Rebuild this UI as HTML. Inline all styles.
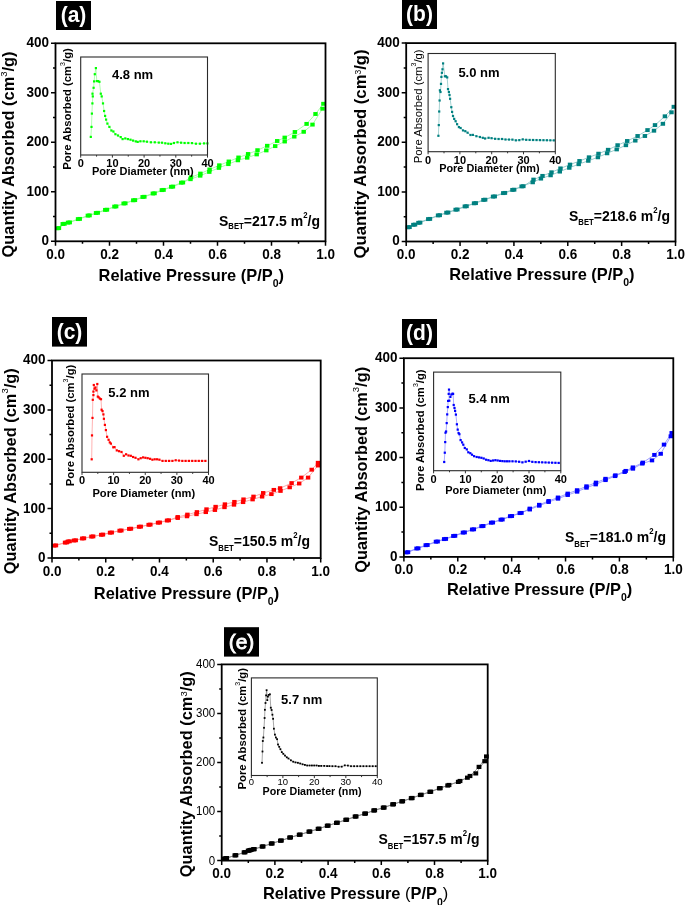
<!DOCTYPE html>
<html><head><meta charset="utf-8"><style>
html,body{margin:0;padding:0;background:#fff;overflow:hidden;}
svg{display:block;will-change:transform;}
text{font-family:"Liberation Sans", sans-serif;}
</style></head><body>
<svg width="685" height="905" viewBox="0 0 685 905">
<rect width="685" height="905" fill="#fff"/>
<rect x="56" y="1" width="35" height="29" fill="#000"/>
<text transform="translate(73.5,22.4) scale(1,1.09)" font-size="21" font-weight="bold" text-anchor="middle" fill="#fff" stroke="#fff" stroke-width="0">(a)</text>
<path d="M57.25,228.3 L62.75,224 L68.05,222.6 L78.05,219.1 L87.85,215.6 L96.05,213 L105.25,209.9 L114.45,206.6 L123.65,203.5 L133.25,200.3 L142.65,197 L152.85,193.5 L161.85,190.1 L171.25,186.8 L181.25,182.7 L190.5,179.2 L200.2,175.7 L209.3,171.9 L218.9,167.9 L228.4,164.1 L237.9,160.3 L247.2,157.7 L256.7,154.4 L266.3,150.4 L275.2,146.1 L284.7,141.5 L294.3,136.6 L303.7,131.8 L312.5,124.6 L322.5,108.7" fill="none" stroke="#90ff90" stroke-width="0.8"/>
<path d="M323.4,103.8 L315.5,114 L306.6,123.9 L294.9,132 L284.7,137.6 L277.2,141 L267.2,145.8 L257.5,150.2 L248.1,154 L238.5,157.5 L228.8,161.5 L219.3,165.3 L209.6,169.5 L200.4,173.6 L191,177.3 L182.95,182.5 L172.95,186.6 L163.55,189.9 L154.55,193.3 L144.35,196.8 L134.95,200.1 L125.35,203.3 L116.15,206.4 L106.95,209.7 L97.75,212.8 L89.55,215.4 L79.75,218.9 L69.75,222.4 L64.45,223.8 L58.95,228.1" fill="none" stroke="#90ff90" stroke-width="0.8"/>
<rect x="55.05" y="226.35" width="4.4" height="3.9" fill="#00ff00"/>
<rect x="60.55" y="222.05" width="4.4" height="3.9" fill="#00ff00"/>
<rect x="65.85" y="220.65" width="4.4" height="3.9" fill="#00ff00"/>
<rect x="75.85" y="217.15" width="4.4" height="3.9" fill="#00ff00"/>
<rect x="85.65" y="213.65" width="4.4" height="3.9" fill="#00ff00"/>
<rect x="93.85" y="211.05" width="4.4" height="3.9" fill="#00ff00"/>
<rect x="103.05" y="207.95" width="4.4" height="3.9" fill="#00ff00"/>
<rect x="112.25" y="204.65" width="4.4" height="3.9" fill="#00ff00"/>
<rect x="121.45" y="201.55" width="4.4" height="3.9" fill="#00ff00"/>
<rect x="131.05" y="198.35" width="4.4" height="3.9" fill="#00ff00"/>
<rect x="140.45" y="195.05" width="4.4" height="3.9" fill="#00ff00"/>
<rect x="150.65" y="191.55" width="4.4" height="3.9" fill="#00ff00"/>
<rect x="159.65" y="188.15" width="4.4" height="3.9" fill="#00ff00"/>
<rect x="169.05" y="184.85" width="4.4" height="3.9" fill="#00ff00"/>
<rect x="179.05" y="180.75" width="4.4" height="3.9" fill="#00ff00"/>
<rect x="188.3" y="177.25" width="4.4" height="3.9" fill="#00ff00"/>
<rect x="198" y="173.75" width="4.4" height="3.9" fill="#00ff00"/>
<rect x="207.1" y="169.95" width="4.4" height="3.9" fill="#00ff00"/>
<rect x="216.7" y="165.95" width="4.4" height="3.9" fill="#00ff00"/>
<rect x="226.2" y="162.15" width="4.4" height="3.9" fill="#00ff00"/>
<rect x="235.7" y="158.35" width="4.4" height="3.9" fill="#00ff00"/>
<rect x="245" y="155.75" width="4.4" height="3.9" fill="#00ff00"/>
<rect x="254.5" y="152.45" width="4.4" height="3.9" fill="#00ff00"/>
<rect x="264.1" y="148.45" width="4.4" height="3.9" fill="#00ff00"/>
<rect x="273" y="144.15" width="4.4" height="3.9" fill="#00ff00"/>
<rect x="282.5" y="139.55" width="4.4" height="3.9" fill="#00ff00"/>
<rect x="292.1" y="134.65" width="4.4" height="3.9" fill="#00ff00"/>
<rect x="301.5" y="129.85" width="4.4" height="3.9" fill="#00ff00"/>
<rect x="310.3" y="122.65" width="4.4" height="3.9" fill="#00ff00"/>
<rect x="320.3" y="106.75" width="4.4" height="3.9" fill="#00ff00"/>
<rect x="321.2" y="101.85" width="4.4" height="3.9" fill="#00ff00"/>
<rect x="313.3" y="112.05" width="4.4" height="3.9" fill="#00ff00"/>
<rect x="304.4" y="121.95" width="4.4" height="3.9" fill="#00ff00"/>
<rect x="292.7" y="130.05" width="4.4" height="3.9" fill="#00ff00"/>
<rect x="282.5" y="135.65" width="4.4" height="3.9" fill="#00ff00"/>
<rect x="275" y="139.05" width="4.4" height="3.9" fill="#00ff00"/>
<rect x="265" y="143.85" width="4.4" height="3.9" fill="#00ff00"/>
<rect x="255.3" y="148.25" width="4.4" height="3.9" fill="#00ff00"/>
<rect x="245.9" y="152.05" width="4.4" height="3.9" fill="#00ff00"/>
<rect x="236.3" y="155.55" width="4.4" height="3.9" fill="#00ff00"/>
<rect x="226.6" y="159.55" width="4.4" height="3.9" fill="#00ff00"/>
<rect x="217.1" y="163.35" width="4.4" height="3.9" fill="#00ff00"/>
<rect x="207.4" y="167.55" width="4.4" height="3.9" fill="#00ff00"/>
<rect x="198.2" y="171.65" width="4.4" height="3.9" fill="#00ff00"/>
<rect x="188.8" y="175.35" width="4.4" height="3.9" fill="#00ff00"/>
<rect x="180.75" y="180.55" width="4.4" height="3.9" fill="#00ff00"/>
<rect x="170.75" y="184.65" width="4.4" height="3.9" fill="#00ff00"/>
<rect x="161.35" y="187.95" width="4.4" height="3.9" fill="#00ff00"/>
<rect x="152.35" y="191.35" width="4.4" height="3.9" fill="#00ff00"/>
<rect x="142.15" y="194.85" width="4.4" height="3.9" fill="#00ff00"/>
<rect x="132.75" y="198.15" width="4.4" height="3.9" fill="#00ff00"/>
<rect x="123.15" y="201.35" width="4.4" height="3.9" fill="#00ff00"/>
<rect x="113.95" y="204.45" width="4.4" height="3.9" fill="#00ff00"/>
<rect x="104.75" y="207.75" width="4.4" height="3.9" fill="#00ff00"/>
<rect x="95.55" y="210.85" width="4.4" height="3.9" fill="#00ff00"/>
<rect x="87.35" y="213.45" width="4.4" height="3.9" fill="#00ff00"/>
<rect x="77.55" y="216.95" width="4.4" height="3.9" fill="#00ff00"/>
<rect x="67.55" y="220.45" width="4.4" height="3.9" fill="#00ff00"/>
<rect x="62.25" y="221.85" width="4.4" height="3.9" fill="#00ff00"/>
<rect x="56.75" y="226.15" width="4.4" height="3.9" fill="#00ff00"/>
<rect x="55.5" y="43.3" width="270" height="198" fill="none" stroke="#000" stroke-width="1.8"/>
<path d="M55.5,241.3 v4.5 M82.5,241.3 v2.5 M109.5,241.3 v4.5 M136.5,241.3 v2.5 M163.5,241.3 v4.5 M190.5,241.3 v2.5 M217.5,241.3 v4.5 M244.5,241.3 v2.5 M271.5,241.3 v4.5 M298.5,241.3 v2.5 M325.5,241.3 v4.5 M55.5,241.3 h-4.5 M55.5,216.55 h-2.5 M55.5,191.8 h-4.5 M55.5,167.05 h-2.5 M55.5,142.3 h-4.5 M55.5,117.55 h-2.5 M55.5,92.8 h-4.5 M55.5,68.05 h-2.5 M55.5,43.3 h-4.5" stroke="#000" stroke-width="1.5" fill="none"/>
<text transform="translate(55.5,258.8) scale(1,1.05)" font-size="13.5" font-weight="bold" text-anchor="middle">0.0</text>
<text transform="translate(109.5,258.8) scale(1,1.05)" font-size="13.5" font-weight="bold" text-anchor="middle">0.2</text>
<text transform="translate(163.5,258.8) scale(1,1.05)" font-size="13.5" font-weight="bold" text-anchor="middle">0.4</text>
<text transform="translate(217.5,258.8) scale(1,1.05)" font-size="13.5" font-weight="bold" text-anchor="middle">0.6</text>
<text transform="translate(271.5,258.8) scale(1,1.05)" font-size="13.5" font-weight="bold" text-anchor="middle">0.8</text>
<text transform="translate(325.5,258.8) scale(1,1.05)" font-size="13.5" font-weight="bold" text-anchor="middle">1.0</text>
<text transform="translate(49,245.2) scale(1,1.05)" font-size="13.5" font-weight="bold" text-anchor="end">0</text>
<text transform="translate(49,195.7) scale(1,1.05)" font-size="13.5" font-weight="bold" text-anchor="end">100</text>
<text transform="translate(49,146.2) scale(1,1.05)" font-size="13.5" font-weight="bold" text-anchor="end">200</text>
<text transform="translate(49,96.7) scale(1,1.05)" font-size="13.5" font-weight="bold" text-anchor="end">300</text>
<text transform="translate(49,47.2) scale(1,1.05)" font-size="13.5" font-weight="bold" text-anchor="end">400</text>
<text x="98.6" y="280.7" font-size="16.4" font-weight="bold">Relative Pressure <tspan font-weight="bold">(</tspan>P/P<tspan font-size="10.5" dy="6.3">0</tspan><tspan dy="-6.3" font-weight="bold">)</tspan></text>
<text transform="translate(14,257.4) rotate(-90)" x="0" y="0" font-size="16.4" font-weight="bold">Quantity Absorbed (cm<tspan font-size="9.5" dy="-7.5" font-weight="normal">3</tspan><tspan dy="7.5">/g)</tspan></text>
<text transform="translate(219,225.7) scale(1,1.07)" font-size="14" font-weight="bold">S<tspan font-size="7.7" dy="3.5">BET</tspan><tspan dy="-3.5">=217.5 m</tspan><tspan font-size="7.8" dy="-7.4">2</tspan><tspan dy="7.4">/g</tspan></text>
<path d="M90.8,136.9 L91.5,126.9 L91.9,113.6 L92.4,103.4 L92.8,96.4 L92.5,93.7 L93.6,87.8 L94.1,81.4 L94.8,74.2 L95.9,68.1 L96.8,81.1 L98.1,81.1 L99.4,81.8 L100.8,93.7 L101.7,96.4 L103,103.4 L104.1,111 L105.1,115.9 L106.1,119.6 L107.4,123.6 L109.4,126.9 L111.4,130.5 L113.4,131.5 L115.4,134.2 L118,135.5 L120.7,137.1 L122.6,139.1 L125.3,138.4 L127.9,139.1 L130.5,139.7 L133.1,140.6 L135.8,141.4 L137.7,141.9 L140.4,141.3 L143.7,141.3 L146.9,141.7 L150.9,142.3 L154.8,142.3 L158.8,142.6 L162,142.7 L165.3,143.3 L168.3,143.7 L171,143.9 L173.9,143 L177.5,142.3 L181.1,142.7 L184.6,143 L188.3,143 L192,143.1 L195.9,143.7 L199.9,143.7 L204.1,143.4 L207.4,143.4" fill="none" stroke="#90ff90" stroke-width="0.7"/>
<rect x="89.7" y="135.8" width="2.2" height="2.2" fill="#00ff00"/>
<rect x="90.4" y="125.8" width="2.2" height="2.2" fill="#00ff00"/>
<rect x="90.8" y="112.5" width="2.2" height="2.2" fill="#00ff00"/>
<rect x="91.3" y="102.3" width="2.2" height="2.2" fill="#00ff00"/>
<rect x="91.7" y="95.3" width="2.2" height="2.2" fill="#00ff00"/>
<rect x="91.4" y="92.6" width="2.2" height="2.2" fill="#00ff00"/>
<rect x="92.5" y="86.7" width="2.2" height="2.2" fill="#00ff00"/>
<rect x="93" y="80.3" width="2.2" height="2.2" fill="#00ff00"/>
<rect x="93.7" y="73.1" width="2.2" height="2.2" fill="#00ff00"/>
<rect x="94.8" y="67" width="2.2" height="2.2" fill="#00ff00"/>
<rect x="95.7" y="80" width="2.2" height="2.2" fill="#00ff00"/>
<rect x="97" y="80" width="2.2" height="2.2" fill="#00ff00"/>
<rect x="98.3" y="80.7" width="2.2" height="2.2" fill="#00ff00"/>
<rect x="99.7" y="92.6" width="2.2" height="2.2" fill="#00ff00"/>
<rect x="100.6" y="95.3" width="2.2" height="2.2" fill="#00ff00"/>
<rect x="101.9" y="102.3" width="2.2" height="2.2" fill="#00ff00"/>
<rect x="103" y="109.9" width="2.2" height="2.2" fill="#00ff00"/>
<rect x="104" y="114.8" width="2.2" height="2.2" fill="#00ff00"/>
<rect x="105" y="118.5" width="2.2" height="2.2" fill="#00ff00"/>
<rect x="106.3" y="122.5" width="2.2" height="2.2" fill="#00ff00"/>
<rect x="108.3" y="125.8" width="2.2" height="2.2" fill="#00ff00"/>
<rect x="110.3" y="129.4" width="2.2" height="2.2" fill="#00ff00"/>
<rect x="112.3" y="130.4" width="2.2" height="2.2" fill="#00ff00"/>
<rect x="114.3" y="133.1" width="2.2" height="2.2" fill="#00ff00"/>
<rect x="116.9" y="134.4" width="2.2" height="2.2" fill="#00ff00"/>
<rect x="119.6" y="136" width="2.2" height="2.2" fill="#00ff00"/>
<rect x="121.5" y="138" width="2.2" height="2.2" fill="#00ff00"/>
<rect x="124.2" y="137.3" width="2.2" height="2.2" fill="#00ff00"/>
<rect x="126.8" y="138" width="2.2" height="2.2" fill="#00ff00"/>
<rect x="129.4" y="138.6" width="2.2" height="2.2" fill="#00ff00"/>
<rect x="132" y="139.5" width="2.2" height="2.2" fill="#00ff00"/>
<rect x="134.7" y="140.3" width="2.2" height="2.2" fill="#00ff00"/>
<rect x="136.6" y="140.8" width="2.2" height="2.2" fill="#00ff00"/>
<rect x="139.3" y="140.2" width="2.2" height="2.2" fill="#00ff00"/>
<rect x="142.6" y="140.2" width="2.2" height="2.2" fill="#00ff00"/>
<rect x="145.8" y="140.6" width="2.2" height="2.2" fill="#00ff00"/>
<rect x="149.8" y="141.2" width="2.2" height="2.2" fill="#00ff00"/>
<rect x="153.7" y="141.2" width="2.2" height="2.2" fill="#00ff00"/>
<rect x="157.7" y="141.5" width="2.2" height="2.2" fill="#00ff00"/>
<rect x="160.9" y="141.6" width="2.2" height="2.2" fill="#00ff00"/>
<rect x="164.2" y="142.2" width="2.2" height="2.2" fill="#00ff00"/>
<rect x="167.2" y="142.6" width="2.2" height="2.2" fill="#00ff00"/>
<rect x="169.9" y="142.8" width="2.2" height="2.2" fill="#00ff00"/>
<rect x="172.8" y="141.9" width="2.2" height="2.2" fill="#00ff00"/>
<rect x="176.4" y="141.2" width="2.2" height="2.2" fill="#00ff00"/>
<rect x="180" y="141.6" width="2.2" height="2.2" fill="#00ff00"/>
<rect x="183.5" y="141.9" width="2.2" height="2.2" fill="#00ff00"/>
<rect x="187.2" y="141.9" width="2.2" height="2.2" fill="#00ff00"/>
<rect x="190.9" y="142" width="2.2" height="2.2" fill="#00ff00"/>
<rect x="194.8" y="142.6" width="2.2" height="2.2" fill="#00ff00"/>
<rect x="198.8" y="142.6" width="2.2" height="2.2" fill="#00ff00"/>
<rect x="203" y="142.3" width="2.2" height="2.2" fill="#00ff00"/>
<rect x="206.3" y="142.3" width="2.2" height="2.2" fill="#00ff00"/>
<rect x="80.7" y="57" width="126.8" height="98" fill="none" stroke="#2a2a2a" stroke-width="1.1"/>
<path d="M80.7,155 v2.6 M96.55,155 v1.6 M112.4,155 v2.6 M128.25,155 v1.6 M144.1,155 v2.6 M159.95,155 v1.6 M175.8,155 v2.6 M191.65,155 v1.6 M207.5,155 v2.6" stroke="#333" stroke-width="1" fill="none"/>
<text x="80.7" y="167" font-size="11" font-weight="bold" text-anchor="middle" fill="#000" >0</text>
<text x="112.4" y="167" font-size="11" font-weight="bold" text-anchor="middle" fill="#000" >10</text>
<text x="144.1" y="167" font-size="11" font-weight="bold" text-anchor="middle" fill="#000" >20</text>
<text x="175.8" y="167" font-size="11" font-weight="bold" text-anchor="middle" fill="#000" >30</text>
<text x="207.5" y="167" font-size="11" font-weight="bold" text-anchor="middle" fill="#000" >40</text>
<text x="92" y="174.5" font-size="11" font-weight="bold" textLength="101.6" lengthAdjust="spacingAndGlyphs">Pore Diameter (nm)</text>
<text transform="translate(70.9,169.7) rotate(-90)" font-size="11.3" font-weight="bold">Pore Absorbed (cm<tspan font-size="7" font-weight="normal" dy="-5.8">3</tspan><tspan dy="5.8">/g)</tspan></text>
<text x="112" y="79" font-size="13" font-weight="bold" text-anchor="start" fill="#000" >4.8 nm</text>
<rect x="402" y="0" width="35" height="29" fill="#000"/>
<text transform="translate(419.5,21.4) scale(1,1.09)" font-size="21" font-weight="bold" text-anchor="middle" fill="#fff" stroke="#fff" stroke-width="0">(b)</text>
<path d="M407.85,227.3 L413.35,224.8 L418.45,222.8 L428.25,219.1 L438.05,215.4 L446.45,212.7 L455.65,209.7 L464.85,206.4 L474.05,203.3 L483.45,199.9 L493.05,196.6 L503.25,193.1 L512.45,189.9 L521.65,186.4 L532.7,182.3 L540.9,178.6 L550.6,175.3 L559.8,171.6 L569.3,167.8 L578.7,164.2 L588.3,160.8 L597.9,157.3 L607.1,153.3 L616.7,149.4 L625.9,145.2 L635.3,140.6 L644.9,136 L654,130.7 L662.9,123.8 L671.5,112.3" fill="none" stroke="#80c0c0" stroke-width="0.8"/>
<path d="M673.8,106.8 L664.9,116.3 L655,125.1 L647.5,130.1 L637.6,136 L627.2,141 L617.6,145.2 L608.1,149.8 L598.5,153.7 L589,157.3 L579.5,161 L570,164.6 L560.5,168.4 L551.5,172.3 L542.5,175.9 L533.5,179.6 L523.35,186.2 L514.15,189.7 L504.95,192.9 L494.75,196.4 L485.15,199.7 L475.75,203.1 L466.55,206.2 L457.35,209.5 L448.15,212.5 L439.75,215.2 L429.95,218.9 L420.15,222.6 L415.05,224.6 L409.55,227.1" fill="none" stroke="#80c0c0" stroke-width="0.8"/>
<rect x="405.65" y="225.35" width="4.4" height="3.9" fill="#008080"/>
<rect x="411.15" y="222.85" width="4.4" height="3.9" fill="#008080"/>
<rect x="416.25" y="220.85" width="4.4" height="3.9" fill="#008080"/>
<rect x="426.05" y="217.15" width="4.4" height="3.9" fill="#008080"/>
<rect x="435.85" y="213.45" width="4.4" height="3.9" fill="#008080"/>
<rect x="444.25" y="210.75" width="4.4" height="3.9" fill="#008080"/>
<rect x="453.45" y="207.75" width="4.4" height="3.9" fill="#008080"/>
<rect x="462.65" y="204.45" width="4.4" height="3.9" fill="#008080"/>
<rect x="471.85" y="201.35" width="4.4" height="3.9" fill="#008080"/>
<rect x="481.25" y="197.95" width="4.4" height="3.9" fill="#008080"/>
<rect x="490.85" y="194.65" width="4.4" height="3.9" fill="#008080"/>
<rect x="501.05" y="191.15" width="4.4" height="3.9" fill="#008080"/>
<rect x="510.25" y="187.95" width="4.4" height="3.9" fill="#008080"/>
<rect x="519.45" y="184.45" width="4.4" height="3.9" fill="#008080"/>
<rect x="530.5" y="180.35" width="4.4" height="3.9" fill="#008080"/>
<rect x="538.7" y="176.65" width="4.4" height="3.9" fill="#008080"/>
<rect x="548.4" y="173.35" width="4.4" height="3.9" fill="#008080"/>
<rect x="557.6" y="169.65" width="4.4" height="3.9" fill="#008080"/>
<rect x="567.1" y="165.85" width="4.4" height="3.9" fill="#008080"/>
<rect x="576.5" y="162.25" width="4.4" height="3.9" fill="#008080"/>
<rect x="586.1" y="158.85" width="4.4" height="3.9" fill="#008080"/>
<rect x="595.7" y="155.35" width="4.4" height="3.9" fill="#008080"/>
<rect x="604.9" y="151.35" width="4.4" height="3.9" fill="#008080"/>
<rect x="614.5" y="147.45" width="4.4" height="3.9" fill="#008080"/>
<rect x="623.7" y="143.25" width="4.4" height="3.9" fill="#008080"/>
<rect x="633.1" y="138.65" width="4.4" height="3.9" fill="#008080"/>
<rect x="642.7" y="134.05" width="4.4" height="3.9" fill="#008080"/>
<rect x="651.8" y="128.75" width="4.4" height="3.9" fill="#008080"/>
<rect x="660.7" y="121.85" width="4.4" height="3.9" fill="#008080"/>
<rect x="669.3" y="110.35" width="4.4" height="3.9" fill="#008080"/>
<rect x="671.6" y="104.85" width="4.4" height="3.9" fill="#008080"/>
<rect x="662.7" y="114.35" width="4.4" height="3.9" fill="#008080"/>
<rect x="652.8" y="123.15" width="4.4" height="3.9" fill="#008080"/>
<rect x="645.3" y="128.15" width="4.4" height="3.9" fill="#008080"/>
<rect x="635.4" y="134.05" width="4.4" height="3.9" fill="#008080"/>
<rect x="625" y="139.05" width="4.4" height="3.9" fill="#008080"/>
<rect x="615.4" y="143.25" width="4.4" height="3.9" fill="#008080"/>
<rect x="605.9" y="147.85" width="4.4" height="3.9" fill="#008080"/>
<rect x="596.3" y="151.75" width="4.4" height="3.9" fill="#008080"/>
<rect x="586.8" y="155.35" width="4.4" height="3.9" fill="#008080"/>
<rect x="577.3" y="159.05" width="4.4" height="3.9" fill="#008080"/>
<rect x="567.8" y="162.65" width="4.4" height="3.9" fill="#008080"/>
<rect x="558.3" y="166.45" width="4.4" height="3.9" fill="#008080"/>
<rect x="549.3" y="170.35" width="4.4" height="3.9" fill="#008080"/>
<rect x="540.3" y="173.95" width="4.4" height="3.9" fill="#008080"/>
<rect x="531.3" y="177.65" width="4.4" height="3.9" fill="#008080"/>
<rect x="521.15" y="184.25" width="4.4" height="3.9" fill="#008080"/>
<rect x="511.95" y="187.75" width="4.4" height="3.9" fill="#008080"/>
<rect x="502.75" y="190.95" width="4.4" height="3.9" fill="#008080"/>
<rect x="492.55" y="194.45" width="4.4" height="3.9" fill="#008080"/>
<rect x="482.95" y="197.75" width="4.4" height="3.9" fill="#008080"/>
<rect x="473.55" y="201.15" width="4.4" height="3.9" fill="#008080"/>
<rect x="464.35" y="204.25" width="4.4" height="3.9" fill="#008080"/>
<rect x="455.15" y="207.55" width="4.4" height="3.9" fill="#008080"/>
<rect x="445.95" y="210.55" width="4.4" height="3.9" fill="#008080"/>
<rect x="437.55" y="213.25" width="4.4" height="3.9" fill="#008080"/>
<rect x="427.75" y="216.95" width="4.4" height="3.9" fill="#008080"/>
<rect x="417.95" y="220.65" width="4.4" height="3.9" fill="#008080"/>
<rect x="412.85" y="222.65" width="4.4" height="3.9" fill="#008080"/>
<rect x="407.35" y="225.15" width="4.4" height="3.9" fill="#008080"/>
<rect x="406.2" y="43.1" width="269.3" height="198.4" fill="none" stroke="#000" stroke-width="1.8"/>
<path d="M406.2,241.5 v4.5 M433.13,241.5 v2.5 M460.06,241.5 v4.5 M486.99,241.5 v2.5 M513.92,241.5 v4.5 M540.85,241.5 v2.5 M567.78,241.5 v4.5 M594.71,241.5 v2.5 M621.64,241.5 v4.5 M648.57,241.5 v2.5 M675.5,241.5 v4.5 M406.2,241.5 h-4.5 M406.2,216.7 h-2.5 M406.2,191.9 h-4.5 M406.2,167.1 h-2.5 M406.2,142.3 h-4.5 M406.2,117.5 h-2.5 M406.2,92.7 h-4.5 M406.2,67.9 h-2.5 M406.2,43.1 h-4.5" stroke="#000" stroke-width="1.5" fill="none"/>
<text transform="translate(406.2,259) scale(1,1.05)" font-size="13.5" font-weight="bold" text-anchor="middle">0.0</text>
<text transform="translate(460.06,259) scale(1,1.05)" font-size="13.5" font-weight="bold" text-anchor="middle">0.2</text>
<text transform="translate(513.92,259) scale(1,1.05)" font-size="13.5" font-weight="bold" text-anchor="middle">0.4</text>
<text transform="translate(567.78,259) scale(1,1.05)" font-size="13.5" font-weight="bold" text-anchor="middle">0.6</text>
<text transform="translate(621.64,259) scale(1,1.05)" font-size="13.5" font-weight="bold" text-anchor="middle">0.8</text>
<text transform="translate(675.5,259) scale(1,1.05)" font-size="13.5" font-weight="bold" text-anchor="middle">1.0</text>
<text transform="translate(399.7,245.4) scale(1,1.05)" font-size="13.5" font-weight="bold" text-anchor="end">0</text>
<text transform="translate(399.7,195.8) scale(1,1.05)" font-size="13.5" font-weight="bold" text-anchor="end">100</text>
<text transform="translate(399.7,146.2) scale(1,1.05)" font-size="13.5" font-weight="bold" text-anchor="end">200</text>
<text transform="translate(399.7,96.6) scale(1,1.05)" font-size="13.5" font-weight="bold" text-anchor="end">300</text>
<text transform="translate(399.7,47) scale(1,1.05)" font-size="13.5" font-weight="bold" text-anchor="end">400</text>
<text x="449.2" y="279.5" font-size="16.4" font-weight="bold">Relative Pressure <tspan font-weight="bold">(</tspan>P/P<tspan font-size="10.5" dy="6.3">0</tspan><tspan dy="-6.3" font-weight="bold">)</tspan></text>
<text transform="translate(366,258.4) rotate(-90)" x="0" y="0" font-size="16.7" font-weight="bold">Quantity Absorbed (cm<tspan font-size="8.5" dy="-5.5" font-weight="normal">3</tspan><tspan dy="5.5">/g)</tspan></text>
<text transform="translate(569,220.7) scale(1,1.07)" font-size="14" font-weight="bold">S<tspan font-size="7.7" dy="4.1">BET</tspan><tspan dy="-4.1">=218.6 m</tspan><tspan font-size="7.8" dy="-7.4">2</tspan><tspan dy="7.4">/g</tspan></text>
<path d="M438.4,135.8 L438.8,125.1 L439.2,111.5 L439.6,100.5 L439.9,90.3 L440.5,92 L441,83.9 L441.4,76.9 L441.9,72.8 L442.5,69.3 L443.1,63.4 L444.9,76.3 L446,76.3 L447.2,77.4 L448,89.1 L448.9,92 L449.5,95 L450.1,98.8 L451.3,107.2 L452.1,111.9 L453,116 L454.2,118.9 L455.6,121.2 L457.1,124.2 L458.9,127.1 L460.6,128 L463,130.4 L465.3,131.2 L467.6,132.7 L470.5,135 L472.9,134.9 L476.4,136.2 L479.9,137 L482.8,137.8 L485.1,138.5 L488.6,137.8 L491.6,138.2 L495.1,138.8 L498.6,139 L502.1,139 L505.5,139.5 L508.95,139.56 L512.4,139.63 L515.85,140.33 L519.3,140.13 L522.75,139.36 L526.2,139.82 L529.65,139.94 L533.1,140 L536.55,140.06 L540,140.13 L543.45,140.19 L546.9,140.25 L550.35,140.32 L553.8,140.38" fill="none" stroke="#80c0c0" stroke-width="0.7"/>
<rect x="437.3" y="134.7" width="2.2" height="2.2" fill="#008080"/>
<rect x="437.7" y="124" width="2.2" height="2.2" fill="#008080"/>
<rect x="438.1" y="110.4" width="2.2" height="2.2" fill="#008080"/>
<rect x="438.5" y="99.4" width="2.2" height="2.2" fill="#008080"/>
<rect x="438.8" y="89.2" width="2.2" height="2.2" fill="#008080"/>
<rect x="439.4" y="90.9" width="2.2" height="2.2" fill="#008080"/>
<rect x="439.9" y="82.8" width="2.2" height="2.2" fill="#008080"/>
<rect x="440.3" y="75.8" width="2.2" height="2.2" fill="#008080"/>
<rect x="440.8" y="71.7" width="2.2" height="2.2" fill="#008080"/>
<rect x="441.4" y="68.2" width="2.2" height="2.2" fill="#008080"/>
<rect x="442" y="62.3" width="2.2" height="2.2" fill="#008080"/>
<rect x="443.8" y="75.2" width="2.2" height="2.2" fill="#008080"/>
<rect x="444.9" y="75.2" width="2.2" height="2.2" fill="#008080"/>
<rect x="446.1" y="76.3" width="2.2" height="2.2" fill="#008080"/>
<rect x="446.9" y="88" width="2.2" height="2.2" fill="#008080"/>
<rect x="447.8" y="90.9" width="2.2" height="2.2" fill="#008080"/>
<rect x="448.4" y="93.9" width="2.2" height="2.2" fill="#008080"/>
<rect x="449" y="97.7" width="2.2" height="2.2" fill="#008080"/>
<rect x="450.2" y="106.1" width="2.2" height="2.2" fill="#008080"/>
<rect x="451" y="110.8" width="2.2" height="2.2" fill="#008080"/>
<rect x="451.9" y="114.9" width="2.2" height="2.2" fill="#008080"/>
<rect x="453.1" y="117.8" width="2.2" height="2.2" fill="#008080"/>
<rect x="454.5" y="120.1" width="2.2" height="2.2" fill="#008080"/>
<rect x="456" y="123.1" width="2.2" height="2.2" fill="#008080"/>
<rect x="457.8" y="126" width="2.2" height="2.2" fill="#008080"/>
<rect x="459.5" y="126.9" width="2.2" height="2.2" fill="#008080"/>
<rect x="461.9" y="129.3" width="2.2" height="2.2" fill="#008080"/>
<rect x="464.2" y="130.1" width="2.2" height="2.2" fill="#008080"/>
<rect x="466.5" y="131.6" width="2.2" height="2.2" fill="#008080"/>
<rect x="469.4" y="133.9" width="2.2" height="2.2" fill="#008080"/>
<rect x="471.8" y="133.8" width="2.2" height="2.2" fill="#008080"/>
<rect x="475.3" y="135.1" width="2.2" height="2.2" fill="#008080"/>
<rect x="478.8" y="135.9" width="2.2" height="2.2" fill="#008080"/>
<rect x="481.7" y="136.7" width="2.2" height="2.2" fill="#008080"/>
<rect x="484" y="137.4" width="2.2" height="2.2" fill="#008080"/>
<rect x="487.5" y="136.7" width="2.2" height="2.2" fill="#008080"/>
<rect x="490.5" y="137.1" width="2.2" height="2.2" fill="#008080"/>
<rect x="494" y="137.7" width="2.2" height="2.2" fill="#008080"/>
<rect x="497.5" y="137.9" width="2.2" height="2.2" fill="#008080"/>
<rect x="501" y="137.9" width="2.2" height="2.2" fill="#008080"/>
<rect x="504.4" y="138.4" width="2.2" height="2.2" fill="#008080"/>
<rect x="507.85" y="138.46" width="2.2" height="2.2" fill="#008080"/>
<rect x="511.3" y="138.53" width="2.2" height="2.2" fill="#008080"/>
<rect x="514.75" y="139.23" width="2.2" height="2.2" fill="#008080"/>
<rect x="518.2" y="139.03" width="2.2" height="2.2" fill="#008080"/>
<rect x="521.65" y="138.26" width="2.2" height="2.2" fill="#008080"/>
<rect x="525.1" y="138.72" width="2.2" height="2.2" fill="#008080"/>
<rect x="528.55" y="138.84" width="2.2" height="2.2" fill="#008080"/>
<rect x="532" y="138.9" width="2.2" height="2.2" fill="#008080"/>
<rect x="535.45" y="138.96" width="2.2" height="2.2" fill="#008080"/>
<rect x="538.9" y="139.03" width="2.2" height="2.2" fill="#008080"/>
<rect x="542.35" y="139.09" width="2.2" height="2.2" fill="#008080"/>
<rect x="545.8" y="139.15" width="2.2" height="2.2" fill="#008080"/>
<rect x="549.25" y="139.22" width="2.2" height="2.2" fill="#008080"/>
<rect x="552.7" y="139.28" width="2.2" height="2.2" fill="#008080"/>
<rect x="428.1" y="53.5" width="127.2" height="98.2" fill="none" stroke="#2a2a2a" stroke-width="1.1"/>
<path d="M428.1,151.7 v2.6 M444,151.7 v1.6 M459.9,151.7 v2.6 M475.8,151.7 v1.6 M491.7,151.7 v2.6 M507.6,151.7 v1.6 M523.5,151.7 v2.6 M539.4,151.7 v1.6 M555.3,151.7 v2.6" stroke="#333" stroke-width="1" fill="none"/>
<text x="428.1" y="163.7" font-size="11" font-weight="bold" text-anchor="middle" fill="#000" >0</text>
<text x="459.9" y="163.7" font-size="11" font-weight="bold" text-anchor="middle" fill="#000" >10</text>
<text x="491.7" y="163.7" font-size="11" font-weight="bold" text-anchor="middle" fill="#000" >20</text>
<text x="523.5" y="163.7" font-size="11" font-weight="bold" text-anchor="middle" fill="#000" >30</text>
<text x="555.3" y="163.7" font-size="11" font-weight="bold" text-anchor="middle" fill="#000" >40</text>
<text x="439.2" y="171.6" font-size="11" font-weight="bold" textLength="100.5" lengthAdjust="spacingAndGlyphs">Pore Diameter (nm)</text>
<text transform="translate(421.8,163.2) rotate(-90)" font-size="11.3" font-weight="normal">Pore Absorbed (cm<tspan font-size="7" font-weight="normal" dy="-5.8">3</tspan><tspan dy="5.8">/g)</tspan></text>
<text x="458.4" y="76.9" font-size="13" font-weight="bold" text-anchor="start" fill="#000" >5.0 nm</text>
<rect x="52" y="317" width="35" height="29.6" fill="#000"/>
<text transform="translate(69.5,339) scale(1,1.09)" font-size="21" font-weight="bold" text-anchor="middle" fill="#fff" stroke="#fff" stroke-width="0">(c)</text>
<path d="M54.25,545.6 L65.05,542.6 L67.95,541.5 L74.05,540.5 L82.25,538.5 L91.45,536.6 L101.25,534.8 L110.05,532.7 L119.65,530.7 L129.25,528.9 L139.05,526.8 L148.65,524.8 L158.05,522.7 L167.05,520.5 L177.7,518 L187,516.3 L196.5,514.2 L205.8,512.1 L214.9,510 L224.5,507.2 L234,504.7 L243.1,502.1 L252.6,499.4 L262.1,496.6 L271.4,494.1 L280.5,490.9 L289.7,487.3 L299.2,483.5 L308.1,477.6 L318,465.5" fill="none" stroke="#ff9090" stroke-width="0.8"/>
<path d="M318,462.8 L311.7,469.7 L301.3,477.6 L291.6,483.1 L280.1,488.2 L273.8,489.9 L263.2,493 L253.5,496.6 L243.5,499.4 L234.4,501.9 L224.9,504.3 L215.6,506.8 L206.5,509.3 L196.9,512.1 L187.4,514.6 L177.7,517 L168.75,520.3 L159.75,522.5 L150.35,524.6 L140.75,526.6 L130.95,528.7 L121.35,530.5 L111.75,532.5 L102.95,534.6 L93.15,536.4 L83.95,538.3 L75.75,540.3 L69.65,541.3 L66.75,542.4 L55.95,545.4" fill="none" stroke="#ff9090" stroke-width="0.8"/>
<rect x="52.05" y="543.65" width="4.4" height="3.9" fill="#ff0000"/>
<rect x="62.85" y="540.65" width="4.4" height="3.9" fill="#ff0000"/>
<rect x="65.75" y="539.55" width="4.4" height="3.9" fill="#ff0000"/>
<rect x="71.85" y="538.55" width="4.4" height="3.9" fill="#ff0000"/>
<rect x="80.05" y="536.55" width="4.4" height="3.9" fill="#ff0000"/>
<rect x="89.25" y="534.65" width="4.4" height="3.9" fill="#ff0000"/>
<rect x="99.05" y="532.85" width="4.4" height="3.9" fill="#ff0000"/>
<rect x="107.85" y="530.75" width="4.4" height="3.9" fill="#ff0000"/>
<rect x="117.45" y="528.75" width="4.4" height="3.9" fill="#ff0000"/>
<rect x="127.05" y="526.95" width="4.4" height="3.9" fill="#ff0000"/>
<rect x="136.85" y="524.85" width="4.4" height="3.9" fill="#ff0000"/>
<rect x="146.45" y="522.85" width="4.4" height="3.9" fill="#ff0000"/>
<rect x="155.85" y="520.75" width="4.4" height="3.9" fill="#ff0000"/>
<rect x="164.85" y="518.55" width="4.4" height="3.9" fill="#ff0000"/>
<rect x="175.5" y="516.05" width="4.4" height="3.9" fill="#ff0000"/>
<rect x="184.8" y="514.35" width="4.4" height="3.9" fill="#ff0000"/>
<rect x="194.3" y="512.25" width="4.4" height="3.9" fill="#ff0000"/>
<rect x="203.6" y="510.15" width="4.4" height="3.9" fill="#ff0000"/>
<rect x="212.7" y="508.05" width="4.4" height="3.9" fill="#ff0000"/>
<rect x="222.3" y="505.25" width="4.4" height="3.9" fill="#ff0000"/>
<rect x="231.8" y="502.75" width="4.4" height="3.9" fill="#ff0000"/>
<rect x="240.9" y="500.15" width="4.4" height="3.9" fill="#ff0000"/>
<rect x="250.4" y="497.45" width="4.4" height="3.9" fill="#ff0000"/>
<rect x="259.9" y="494.65" width="4.4" height="3.9" fill="#ff0000"/>
<rect x="269.2" y="492.15" width="4.4" height="3.9" fill="#ff0000"/>
<rect x="278.3" y="488.95" width="4.4" height="3.9" fill="#ff0000"/>
<rect x="287.5" y="485.35" width="4.4" height="3.9" fill="#ff0000"/>
<rect x="297" y="481.55" width="4.4" height="3.9" fill="#ff0000"/>
<rect x="305.9" y="475.65" width="4.4" height="3.9" fill="#ff0000"/>
<rect x="315.8" y="463.55" width="4.4" height="3.9" fill="#ff0000"/>
<rect x="315.8" y="460.85" width="4.4" height="3.9" fill="#ff0000"/>
<rect x="309.5" y="467.75" width="4.4" height="3.9" fill="#ff0000"/>
<rect x="299.1" y="475.65" width="4.4" height="3.9" fill="#ff0000"/>
<rect x="289.4" y="481.15" width="4.4" height="3.9" fill="#ff0000"/>
<rect x="277.9" y="486.25" width="4.4" height="3.9" fill="#ff0000"/>
<rect x="271.6" y="487.95" width="4.4" height="3.9" fill="#ff0000"/>
<rect x="261" y="491.05" width="4.4" height="3.9" fill="#ff0000"/>
<rect x="251.3" y="494.65" width="4.4" height="3.9" fill="#ff0000"/>
<rect x="241.3" y="497.45" width="4.4" height="3.9" fill="#ff0000"/>
<rect x="232.2" y="499.95" width="4.4" height="3.9" fill="#ff0000"/>
<rect x="222.7" y="502.35" width="4.4" height="3.9" fill="#ff0000"/>
<rect x="213.4" y="504.85" width="4.4" height="3.9" fill="#ff0000"/>
<rect x="204.3" y="507.35" width="4.4" height="3.9" fill="#ff0000"/>
<rect x="194.7" y="510.15" width="4.4" height="3.9" fill="#ff0000"/>
<rect x="185.2" y="512.65" width="4.4" height="3.9" fill="#ff0000"/>
<rect x="175.5" y="515.05" width="4.4" height="3.9" fill="#ff0000"/>
<rect x="166.55" y="518.35" width="4.4" height="3.9" fill="#ff0000"/>
<rect x="157.55" y="520.55" width="4.4" height="3.9" fill="#ff0000"/>
<rect x="148.15" y="522.65" width="4.4" height="3.9" fill="#ff0000"/>
<rect x="138.55" y="524.65" width="4.4" height="3.9" fill="#ff0000"/>
<rect x="128.75" y="526.75" width="4.4" height="3.9" fill="#ff0000"/>
<rect x="119.15" y="528.55" width="4.4" height="3.9" fill="#ff0000"/>
<rect x="109.55" y="530.55" width="4.4" height="3.9" fill="#ff0000"/>
<rect x="100.75" y="532.65" width="4.4" height="3.9" fill="#ff0000"/>
<rect x="90.95" y="534.45" width="4.4" height="3.9" fill="#ff0000"/>
<rect x="81.75" y="536.35" width="4.4" height="3.9" fill="#ff0000"/>
<rect x="73.55" y="538.35" width="4.4" height="3.9" fill="#ff0000"/>
<rect x="67.45" y="539.35" width="4.4" height="3.9" fill="#ff0000"/>
<rect x="64.55" y="540.45" width="4.4" height="3.9" fill="#ff0000"/>
<rect x="53.75" y="543.45" width="4.4" height="3.9" fill="#ff0000"/>
<rect x="52" y="360.5" width="268.7" height="197.5" fill="none" stroke="#000" stroke-width="1.8"/>
<path d="M52,558 v4.5 M78.87,558 v2.5 M105.74,558 v4.5 M132.61,558 v2.5 M159.48,558 v4.5 M186.35,558 v2.5 M213.22,558 v4.5 M240.09,558 v2.5 M266.96,558 v4.5 M293.83,558 v2.5 M320.7,558 v4.5 M52,558 h-4.5 M52,533.31 h-2.5 M52,508.62 h-4.5 M52,483.94 h-2.5 M52,459.25 h-4.5 M52,434.56 h-2.5 M52,409.88 h-4.5 M52,385.19 h-2.5 M52,360.5 h-4.5" stroke="#000" stroke-width="1.5" fill="none"/>
<text transform="translate(52,575.5) scale(1,1.05)" font-size="13.5" font-weight="bold" text-anchor="middle">0.0</text>
<text transform="translate(105.74,575.5) scale(1,1.05)" font-size="13.5" font-weight="bold" text-anchor="middle">0.2</text>
<text transform="translate(159.48,575.5) scale(1,1.05)" font-size="13.5" font-weight="bold" text-anchor="middle">0.4</text>
<text transform="translate(213.22,575.5) scale(1,1.05)" font-size="13.5" font-weight="bold" text-anchor="middle">0.6</text>
<text transform="translate(266.96,575.5) scale(1,1.05)" font-size="13.5" font-weight="bold" text-anchor="middle">0.8</text>
<text transform="translate(320.7,575.5) scale(1,1.05)" font-size="13.5" font-weight="bold" text-anchor="middle">1.0</text>
<text transform="translate(45.5,561.9) scale(1,1.05)" font-size="13.5" font-weight="bold" text-anchor="end">0</text>
<text transform="translate(45.5,512.52) scale(1,1.05)" font-size="13.5" font-weight="bold" text-anchor="end">100</text>
<text transform="translate(45.5,463.15) scale(1,1.05)" font-size="13.5" font-weight="bold" text-anchor="end">200</text>
<text transform="translate(45.5,413.77) scale(1,1.05)" font-size="13.5" font-weight="bold" text-anchor="end">300</text>
<text transform="translate(45.5,364.4) scale(1,1.05)" font-size="13.5" font-weight="bold" text-anchor="end">400</text>
<text x="93.8" y="598.9" font-size="16.4" font-weight="bold">Relative Pressure <tspan font-weight="bold">(</tspan>P/P<tspan font-size="10.5" dy="6.3">0</tspan><tspan dy="-6.3" font-weight="bold">)</tspan></text>
<text transform="translate(15.6,574.2) rotate(-90)" x="0" y="0" font-size="16.4" font-weight="bold">Quantity Absorbed (cm<tspan font-size="9.5" dy="-7.5" font-weight="normal">3</tspan><tspan dy="7.5">/g)</tspan></text>
<text transform="translate(209,545.7) scale(1,1.07)" font-size="14" font-weight="bold">S<tspan font-size="7.7" dy="4.8">BET</tspan><tspan dy="-4.8">=150.5 m</tspan><tspan font-size="7.8" dy="-7.4">2</tspan><tspan dy="7.4">/g</tspan></text>
<path d="M91.7,459.3 L92,435.4 L92.5,417.9 L92.8,399.8 L93.4,395.1 L93.4,391.6 L93.8,385 L94.6,388.7 L95.4,387.5 L96.4,390.4 L97.3,384 L97.8,396.6 L98.7,397.4 L99.9,398.6 L101,399.2 L101.6,409.7 L102.5,411.1 L103.4,414.4 L103.9,418.8 L104.9,424.9 L105.9,430.1 L107.1,436.8 L108.6,439.8 L109.8,442.4 L110.9,443.6 L113.3,447.3 L114.5,447.1 L116.8,450.4 L119.1,451.2 L121.5,452 L123.8,455.8 L126.1,454.3 L128.5,455.5 L130.8,455.8 L133.1,457 L135.5,457.8 L138.4,459.3 L140.7,458.2 L143.1,457.4 L145.4,457.8 L147.7,458.2 L150.1,458.8 L152.4,459.7 L154.7,459.3 L157.1,459.3 L159.4,459.7 L162.5,460.9 L165.8,460.9 L169.1,460.9 L172.4,460.9 L175.7,460.26 L179,460.6 L182.3,460.9 L185.6,460.9 L188.9,460.9 L192.2,460.9 L195.5,460.9 L198.8,460.9 L202.1,460.9 L205.4,460.9" fill="none" stroke="#ff9090" stroke-width="0.7"/>
<rect x="90.6" y="458.2" width="2.2" height="2.2" fill="#ff0000"/>
<rect x="90.9" y="434.3" width="2.2" height="2.2" fill="#ff0000"/>
<rect x="91.4" y="416.8" width="2.2" height="2.2" fill="#ff0000"/>
<rect x="91.7" y="398.7" width="2.2" height="2.2" fill="#ff0000"/>
<rect x="92.3" y="394" width="2.2" height="2.2" fill="#ff0000"/>
<rect x="92.3" y="390.5" width="2.2" height="2.2" fill="#ff0000"/>
<rect x="92.7" y="383.9" width="2.2" height="2.2" fill="#ff0000"/>
<rect x="93.5" y="387.6" width="2.2" height="2.2" fill="#ff0000"/>
<rect x="94.3" y="386.4" width="2.2" height="2.2" fill="#ff0000"/>
<rect x="95.3" y="389.3" width="2.2" height="2.2" fill="#ff0000"/>
<rect x="96.2" y="382.9" width="2.2" height="2.2" fill="#ff0000"/>
<rect x="96.7" y="395.5" width="2.2" height="2.2" fill="#ff0000"/>
<rect x="97.6" y="396.3" width="2.2" height="2.2" fill="#ff0000"/>
<rect x="98.8" y="397.5" width="2.2" height="2.2" fill="#ff0000"/>
<rect x="99.9" y="398.1" width="2.2" height="2.2" fill="#ff0000"/>
<rect x="100.5" y="408.6" width="2.2" height="2.2" fill="#ff0000"/>
<rect x="101.4" y="410" width="2.2" height="2.2" fill="#ff0000"/>
<rect x="102.3" y="413.3" width="2.2" height="2.2" fill="#ff0000"/>
<rect x="102.8" y="417.7" width="2.2" height="2.2" fill="#ff0000"/>
<rect x="103.8" y="423.8" width="2.2" height="2.2" fill="#ff0000"/>
<rect x="104.8" y="429" width="2.2" height="2.2" fill="#ff0000"/>
<rect x="106" y="435.7" width="2.2" height="2.2" fill="#ff0000"/>
<rect x="107.5" y="438.7" width="2.2" height="2.2" fill="#ff0000"/>
<rect x="108.7" y="441.3" width="2.2" height="2.2" fill="#ff0000"/>
<rect x="109.8" y="442.5" width="2.2" height="2.2" fill="#ff0000"/>
<rect x="112.2" y="446.2" width="2.2" height="2.2" fill="#ff0000"/>
<rect x="113.4" y="446" width="2.2" height="2.2" fill="#ff0000"/>
<rect x="115.7" y="449.3" width="2.2" height="2.2" fill="#ff0000"/>
<rect x="118" y="450.1" width="2.2" height="2.2" fill="#ff0000"/>
<rect x="120.4" y="450.9" width="2.2" height="2.2" fill="#ff0000"/>
<rect x="122.7" y="454.7" width="2.2" height="2.2" fill="#ff0000"/>
<rect x="125" y="453.2" width="2.2" height="2.2" fill="#ff0000"/>
<rect x="127.4" y="454.4" width="2.2" height="2.2" fill="#ff0000"/>
<rect x="129.7" y="454.7" width="2.2" height="2.2" fill="#ff0000"/>
<rect x="132" y="455.9" width="2.2" height="2.2" fill="#ff0000"/>
<rect x="134.4" y="456.7" width="2.2" height="2.2" fill="#ff0000"/>
<rect x="137.3" y="458.2" width="2.2" height="2.2" fill="#ff0000"/>
<rect x="139.6" y="457.1" width="2.2" height="2.2" fill="#ff0000"/>
<rect x="142" y="456.3" width="2.2" height="2.2" fill="#ff0000"/>
<rect x="144.3" y="456.7" width="2.2" height="2.2" fill="#ff0000"/>
<rect x="146.6" y="457.1" width="2.2" height="2.2" fill="#ff0000"/>
<rect x="149" y="457.7" width="2.2" height="2.2" fill="#ff0000"/>
<rect x="151.3" y="458.6" width="2.2" height="2.2" fill="#ff0000"/>
<rect x="153.6" y="458.2" width="2.2" height="2.2" fill="#ff0000"/>
<rect x="156" y="458.2" width="2.2" height="2.2" fill="#ff0000"/>
<rect x="158.3" y="458.6" width="2.2" height="2.2" fill="#ff0000"/>
<rect x="161.4" y="459.8" width="2.2" height="2.2" fill="#ff0000"/>
<rect x="164.7" y="459.8" width="2.2" height="2.2" fill="#ff0000"/>
<rect x="168" y="459.8" width="2.2" height="2.2" fill="#ff0000"/>
<rect x="171.3" y="459.8" width="2.2" height="2.2" fill="#ff0000"/>
<rect x="174.6" y="459.16" width="2.2" height="2.2" fill="#ff0000"/>
<rect x="177.9" y="459.5" width="2.2" height="2.2" fill="#ff0000"/>
<rect x="181.2" y="459.8" width="2.2" height="2.2" fill="#ff0000"/>
<rect x="184.5" y="459.8" width="2.2" height="2.2" fill="#ff0000"/>
<rect x="187.8" y="459.8" width="2.2" height="2.2" fill="#ff0000"/>
<rect x="191.1" y="459.8" width="2.2" height="2.2" fill="#ff0000"/>
<rect x="194.4" y="459.8" width="2.2" height="2.2" fill="#ff0000"/>
<rect x="197.7" y="459.8" width="2.2" height="2.2" fill="#ff0000"/>
<rect x="201" y="459.8" width="2.2" height="2.2" fill="#ff0000"/>
<rect x="204.3" y="459.8" width="2.2" height="2.2" fill="#ff0000"/>
<rect x="82" y="374" width="126.5" height="98.3" fill="none" stroke="#2a2a2a" stroke-width="1.1"/>
<path d="M82,472.3 v2.6 M97.81,472.3 v1.6 M113.62,472.3 v2.6 M129.44,472.3 v1.6 M145.25,472.3 v2.6 M161.06,472.3 v1.6 M176.88,472.3 v2.6 M192.69,472.3 v1.6 M208.5,472.3 v2.6" stroke="#333" stroke-width="1" fill="none"/>
<text x="82" y="484.3" font-size="11" font-weight="bold" text-anchor="middle" fill="#000" >0</text>
<text x="113.62" y="484.3" font-size="11" font-weight="bold" text-anchor="middle" fill="#000" >10</text>
<text x="145.25" y="484.3" font-size="11" font-weight="bold" text-anchor="middle" fill="#000" >20</text>
<text x="176.88" y="484.3" font-size="11" font-weight="bold" text-anchor="middle" fill="#000" >30</text>
<text x="208.5" y="484.3" font-size="11" font-weight="bold" text-anchor="middle" fill="#000" >40</text>
<text x="92.4" y="496.7" font-size="11" font-weight="bold" textLength="102.8" lengthAdjust="spacingAndGlyphs">Pore Diameter (nm)</text>
<text transform="translate(73.5,486.2) rotate(-90)" font-size="11.3" font-weight="bold">Pore Absorbed (cm<tspan font-size="7" font-weight="normal" dy="-5.8">3</tspan><tspan dy="5.8">/g)</tspan></text>
<text x="108.3" y="396.9" font-size="13" font-weight="bold" text-anchor="start" fill="#000" >5.2 nm</text>
<rect x="402" y="319" width="35" height="29" fill="#000"/>
<text transform="translate(419.5,340.4) scale(1,1.09)" font-size="21" font-weight="bold" text-anchor="middle" fill="#fff" stroke="#fff" stroke-width="0">(d)</text>
<path d="M406.35,552.4 L416.55,548.5 L425.75,545.2 L435.95,541.7 L444.15,539.1 L453.35,536 L462.95,532.6 L472.15,529.5 L481.55,526.2 L491.15,522.7 L500.75,519.7 L510.15,516.2 L519.75,513.1 L529.8,509.5 L539.2,505.7 L548.6,502 L558,498.7 L567.7,495 L577.1,491.7 L586.5,487.7 L595.7,484.4 L605.5,480.1 L615,476.1 L624.6,472 L632.9,468.7 L642.3,463.6 L652,460.4 L660.7,453.8 L670.8,436.3" fill="none" stroke="#8888ff" stroke-width="0.8"/>
<path d="M671.7,433 L664,444.6 L654.4,454.9 L642.8,462.6 L632.9,467.4 L625.7,470.9 L615.4,475.3 L605.5,478.8 L596,482.6 L586.5,486.3 L577.1,490.2 L567.7,493.6 L558,497.5 L548.6,501 L539.2,504.8 L529.8,508.6 L521.45,512.9 L511.85,516 L502.45,519.5 L492.85,522.5 L483.25,526 L473.85,529.3 L464.65,532.4 L455.05,535.8 L445.85,538.9 L437.65,541.5 L427.45,545 L418.25,548.3 L408.05,552.2" fill="none" stroke="#8888ff" stroke-width="0.8"/>
<rect x="404.15" y="550.45" width="4.4" height="3.9" fill="#0000ff"/>
<rect x="414.35" y="546.55" width="4.4" height="3.9" fill="#0000ff"/>
<rect x="423.55" y="543.25" width="4.4" height="3.9" fill="#0000ff"/>
<rect x="433.75" y="539.75" width="4.4" height="3.9" fill="#0000ff"/>
<rect x="441.95" y="537.15" width="4.4" height="3.9" fill="#0000ff"/>
<rect x="451.15" y="534.05" width="4.4" height="3.9" fill="#0000ff"/>
<rect x="460.75" y="530.65" width="4.4" height="3.9" fill="#0000ff"/>
<rect x="469.95" y="527.55" width="4.4" height="3.9" fill="#0000ff"/>
<rect x="479.35" y="524.25" width="4.4" height="3.9" fill="#0000ff"/>
<rect x="488.95" y="520.75" width="4.4" height="3.9" fill="#0000ff"/>
<rect x="498.55" y="517.75" width="4.4" height="3.9" fill="#0000ff"/>
<rect x="507.95" y="514.25" width="4.4" height="3.9" fill="#0000ff"/>
<rect x="517.55" y="511.15" width="4.4" height="3.9" fill="#0000ff"/>
<rect x="527.6" y="507.55" width="4.4" height="3.9" fill="#0000ff"/>
<rect x="537" y="503.75" width="4.4" height="3.9" fill="#0000ff"/>
<rect x="546.4" y="500.05" width="4.4" height="3.9" fill="#0000ff"/>
<rect x="555.8" y="496.75" width="4.4" height="3.9" fill="#0000ff"/>
<rect x="565.5" y="493.05" width="4.4" height="3.9" fill="#0000ff"/>
<rect x="574.9" y="489.75" width="4.4" height="3.9" fill="#0000ff"/>
<rect x="584.3" y="485.75" width="4.4" height="3.9" fill="#0000ff"/>
<rect x="593.5" y="482.45" width="4.4" height="3.9" fill="#0000ff"/>
<rect x="603.3" y="478.15" width="4.4" height="3.9" fill="#0000ff"/>
<rect x="612.8" y="474.15" width="4.4" height="3.9" fill="#0000ff"/>
<rect x="622.4" y="470.05" width="4.4" height="3.9" fill="#0000ff"/>
<rect x="630.7" y="466.75" width="4.4" height="3.9" fill="#0000ff"/>
<rect x="640.1" y="461.65" width="4.4" height="3.9" fill="#0000ff"/>
<rect x="649.8" y="458.45" width="4.4" height="3.9" fill="#0000ff"/>
<rect x="658.5" y="451.85" width="4.4" height="3.9" fill="#0000ff"/>
<rect x="668.6" y="434.35" width="4.4" height="3.9" fill="#0000ff"/>
<rect x="669.5" y="431.05" width="4.4" height="3.9" fill="#0000ff"/>
<rect x="661.8" y="442.65" width="4.4" height="3.9" fill="#0000ff"/>
<rect x="652.2" y="452.95" width="4.4" height="3.9" fill="#0000ff"/>
<rect x="640.6" y="460.65" width="4.4" height="3.9" fill="#0000ff"/>
<rect x="630.7" y="465.45" width="4.4" height="3.9" fill="#0000ff"/>
<rect x="623.5" y="468.95" width="4.4" height="3.9" fill="#0000ff"/>
<rect x="613.2" y="473.35" width="4.4" height="3.9" fill="#0000ff"/>
<rect x="603.3" y="476.85" width="4.4" height="3.9" fill="#0000ff"/>
<rect x="593.8" y="480.65" width="4.4" height="3.9" fill="#0000ff"/>
<rect x="584.3" y="484.35" width="4.4" height="3.9" fill="#0000ff"/>
<rect x="574.9" y="488.25" width="4.4" height="3.9" fill="#0000ff"/>
<rect x="565.5" y="491.65" width="4.4" height="3.9" fill="#0000ff"/>
<rect x="555.8" y="495.55" width="4.4" height="3.9" fill="#0000ff"/>
<rect x="546.4" y="499.05" width="4.4" height="3.9" fill="#0000ff"/>
<rect x="537" y="502.85" width="4.4" height="3.9" fill="#0000ff"/>
<rect x="527.6" y="506.65" width="4.4" height="3.9" fill="#0000ff"/>
<rect x="519.25" y="510.95" width="4.4" height="3.9" fill="#0000ff"/>
<rect x="509.65" y="514.05" width="4.4" height="3.9" fill="#0000ff"/>
<rect x="500.25" y="517.55" width="4.4" height="3.9" fill="#0000ff"/>
<rect x="490.65" y="520.55" width="4.4" height="3.9" fill="#0000ff"/>
<rect x="481.05" y="524.05" width="4.4" height="3.9" fill="#0000ff"/>
<rect x="471.65" y="527.35" width="4.4" height="3.9" fill="#0000ff"/>
<rect x="462.45" y="530.45" width="4.4" height="3.9" fill="#0000ff"/>
<rect x="452.85" y="533.85" width="4.4" height="3.9" fill="#0000ff"/>
<rect x="443.65" y="536.95" width="4.4" height="3.9" fill="#0000ff"/>
<rect x="435.45" y="539.55" width="4.4" height="3.9" fill="#0000ff"/>
<rect x="425.25" y="543.05" width="4.4" height="3.9" fill="#0000ff"/>
<rect x="416.05" y="546.35" width="4.4" height="3.9" fill="#0000ff"/>
<rect x="405.85" y="550.25" width="4.4" height="3.9" fill="#0000ff"/>
<rect x="403.9" y="358.2" width="269.4" height="198.7" fill="none" stroke="#000" stroke-width="1.8"/>
<path d="M403.9,556.9 v4.5 M430.84,556.9 v2.5 M457.78,556.9 v4.5 M484.72,556.9 v2.5 M511.66,556.9 v4.5 M538.6,556.9 v2.5 M565.54,556.9 v4.5 M592.48,556.9 v2.5 M619.42,556.9 v4.5 M646.36,556.9 v2.5 M673.3,556.9 v4.5 M403.9,556.9 h-4.5 M403.9,532.06 h-2.5 M403.9,507.22 h-4.5 M403.9,482.39 h-2.5 M403.9,457.55 h-4.5 M403.9,432.71 h-2.5 M403.9,407.88 h-4.5 M403.9,383.04 h-2.5 M403.9,358.2 h-4.5" stroke="#000" stroke-width="1.5" fill="none"/>
<text transform="translate(403.9,574.4) scale(1,1.05)" font-size="13.5" font-weight="bold" text-anchor="middle">0.0</text>
<text transform="translate(457.78,574.4) scale(1,1.05)" font-size="13.5" font-weight="bold" text-anchor="middle">0.2</text>
<text transform="translate(511.66,574.4) scale(1,1.05)" font-size="13.5" font-weight="bold" text-anchor="middle">0.4</text>
<text transform="translate(565.54,574.4) scale(1,1.05)" font-size="13.5" font-weight="bold" text-anchor="middle">0.6</text>
<text transform="translate(619.42,574.4) scale(1,1.05)" font-size="13.5" font-weight="bold" text-anchor="middle">0.8</text>
<text transform="translate(673.3,574.4) scale(1,1.05)" font-size="13.5" font-weight="bold" text-anchor="middle">1.0</text>
<text transform="translate(397.4,560.8) scale(1,1.05)" font-size="13.5" font-weight="bold" text-anchor="end">0</text>
<text transform="translate(397.4,511.12) scale(1,1.05)" font-size="13.5" font-weight="bold" text-anchor="end">100</text>
<text transform="translate(397.4,461.45) scale(1,1.05)" font-size="13.5" font-weight="bold" text-anchor="end">200</text>
<text transform="translate(397.4,411.77) scale(1,1.05)" font-size="13.5" font-weight="bold" text-anchor="end">300</text>
<text transform="translate(397.4,362.1) scale(1,1.05)" font-size="13.5" font-weight="bold" text-anchor="end">400</text>
<text x="446.9" y="594.5" font-size="16.4" font-weight="bold">Relative Pressure <tspan font-weight="bold">(</tspan>P/P<tspan font-size="10.5" dy="6.3">0</tspan><tspan dy="-6.3" font-weight="bold">)</tspan></text>
<text transform="translate(366.9,572.8) rotate(-90)" x="0" y="0" font-size="16.4" font-weight="bold">Quantity Absorbed (cm<tspan font-size="9.5" dy="-7.5" font-weight="normal">3</tspan><tspan dy="7.5">/g)</tspan></text>
<text transform="translate(565,542.1) scale(1,1.07)" font-size="14" font-weight="bold">S<tspan font-size="7.7" dy="4.8">BET</tspan><tspan dy="-4.8">=181.0 m</tspan><tspan font-size="7.8" dy="-7.4">2</tspan><tspan dy="7.4">/g</tspan></text>
<path d="M444.2,462 L444.8,452.7 L445.2,442.1 L445.5,432.7 L446.1,431.5 L446.7,423.1 L447.2,414.4 L447.8,407.1 L448.1,400.9 L449.3,400.7 L448.7,393.9 L449,389.6 L450.4,396.9 L451.4,394.5 L452.5,393.7 L453.1,393.9 L453.7,405 L454.5,408 L455.1,410.9 L455.9,414.6 L456.9,424.3 L457.7,429.6 L458.6,433.1 L459.4,434.2 L460.6,440.1 L462.1,442.4 L463.3,444.7 L464.8,448 L466.8,449.4 L468.3,452.3 L470.3,453.2 L472,454.7 L474.1,456.2 L476.7,457 L479.1,457.4 L481.4,457.8 L483.7,458.5 L486.1,459.7 L488.4,460.2 L490.7,460.9 L493.1,460.5 L495.4,460.2 L497.7,460.5 L500.1,460.9 L502.4,461.1 L504.7,461.3 L507.1,461.3 L509.4,461.3 L512.5,461.3 L515.8,461.42 L519.1,461.75 L522.4,462.37 L525.7,461.67 L529,460.98 L532.3,461.84 L535.6,462.11 L538.9,462.23 L542.2,462.34 L545.5,462.46 L548.8,462.57 L552.1,462.69 L555.4,462.8 L558.7,462.92" fill="none" stroke="#8888ff" stroke-width="0.7"/>
<rect x="443.1" y="460.9" width="2.2" height="2.2" fill="#0000ff"/>
<rect x="443.7" y="451.6" width="2.2" height="2.2" fill="#0000ff"/>
<rect x="444.1" y="441" width="2.2" height="2.2" fill="#0000ff"/>
<rect x="444.4" y="431.6" width="2.2" height="2.2" fill="#0000ff"/>
<rect x="445" y="430.4" width="2.2" height="2.2" fill="#0000ff"/>
<rect x="445.6" y="422" width="2.2" height="2.2" fill="#0000ff"/>
<rect x="446.1" y="413.3" width="2.2" height="2.2" fill="#0000ff"/>
<rect x="446.7" y="406" width="2.2" height="2.2" fill="#0000ff"/>
<rect x="447" y="399.8" width="2.2" height="2.2" fill="#0000ff"/>
<rect x="448.2" y="399.6" width="2.2" height="2.2" fill="#0000ff"/>
<rect x="447.6" y="392.8" width="2.2" height="2.2" fill="#0000ff"/>
<rect x="447.9" y="388.5" width="2.2" height="2.2" fill="#0000ff"/>
<rect x="449.3" y="395.8" width="2.2" height="2.2" fill="#0000ff"/>
<rect x="450.3" y="393.4" width="2.2" height="2.2" fill="#0000ff"/>
<rect x="451.4" y="392.6" width="2.2" height="2.2" fill="#0000ff"/>
<rect x="452" y="392.8" width="2.2" height="2.2" fill="#0000ff"/>
<rect x="452.6" y="403.9" width="2.2" height="2.2" fill="#0000ff"/>
<rect x="453.4" y="406.9" width="2.2" height="2.2" fill="#0000ff"/>
<rect x="454" y="409.8" width="2.2" height="2.2" fill="#0000ff"/>
<rect x="454.8" y="413.5" width="2.2" height="2.2" fill="#0000ff"/>
<rect x="455.8" y="423.2" width="2.2" height="2.2" fill="#0000ff"/>
<rect x="456.6" y="428.5" width="2.2" height="2.2" fill="#0000ff"/>
<rect x="457.5" y="432" width="2.2" height="2.2" fill="#0000ff"/>
<rect x="458.3" y="433.1" width="2.2" height="2.2" fill="#0000ff"/>
<rect x="459.5" y="439" width="2.2" height="2.2" fill="#0000ff"/>
<rect x="461" y="441.3" width="2.2" height="2.2" fill="#0000ff"/>
<rect x="462.2" y="443.6" width="2.2" height="2.2" fill="#0000ff"/>
<rect x="463.7" y="446.9" width="2.2" height="2.2" fill="#0000ff"/>
<rect x="465.7" y="448.3" width="2.2" height="2.2" fill="#0000ff"/>
<rect x="467.2" y="451.2" width="2.2" height="2.2" fill="#0000ff"/>
<rect x="469.2" y="452.1" width="2.2" height="2.2" fill="#0000ff"/>
<rect x="470.9" y="453.6" width="2.2" height="2.2" fill="#0000ff"/>
<rect x="473" y="455.1" width="2.2" height="2.2" fill="#0000ff"/>
<rect x="475.6" y="455.9" width="2.2" height="2.2" fill="#0000ff"/>
<rect x="478" y="456.3" width="2.2" height="2.2" fill="#0000ff"/>
<rect x="480.3" y="456.7" width="2.2" height="2.2" fill="#0000ff"/>
<rect x="482.6" y="457.4" width="2.2" height="2.2" fill="#0000ff"/>
<rect x="485" y="458.6" width="2.2" height="2.2" fill="#0000ff"/>
<rect x="487.3" y="459.1" width="2.2" height="2.2" fill="#0000ff"/>
<rect x="489.6" y="459.8" width="2.2" height="2.2" fill="#0000ff"/>
<rect x="492" y="459.4" width="2.2" height="2.2" fill="#0000ff"/>
<rect x="494.3" y="459.1" width="2.2" height="2.2" fill="#0000ff"/>
<rect x="496.6" y="459.4" width="2.2" height="2.2" fill="#0000ff"/>
<rect x="499" y="459.8" width="2.2" height="2.2" fill="#0000ff"/>
<rect x="501.3" y="460" width="2.2" height="2.2" fill="#0000ff"/>
<rect x="503.6" y="460.2" width="2.2" height="2.2" fill="#0000ff"/>
<rect x="506" y="460.2" width="2.2" height="2.2" fill="#0000ff"/>
<rect x="508.3" y="460.2" width="2.2" height="2.2" fill="#0000ff"/>
<rect x="511.4" y="460.2" width="2.2" height="2.2" fill="#0000ff"/>
<rect x="514.7" y="460.32" width="2.2" height="2.2" fill="#0000ff"/>
<rect x="518" y="460.65" width="2.2" height="2.2" fill="#0000ff"/>
<rect x="521.3" y="461.27" width="2.2" height="2.2" fill="#0000ff"/>
<rect x="524.6" y="460.57" width="2.2" height="2.2" fill="#0000ff"/>
<rect x="527.9" y="459.88" width="2.2" height="2.2" fill="#0000ff"/>
<rect x="531.2" y="460.74" width="2.2" height="2.2" fill="#0000ff"/>
<rect x="534.5" y="461.01" width="2.2" height="2.2" fill="#0000ff"/>
<rect x="537.8" y="461.13" width="2.2" height="2.2" fill="#0000ff"/>
<rect x="541.1" y="461.24" width="2.2" height="2.2" fill="#0000ff"/>
<rect x="544.4" y="461.36" width="2.2" height="2.2" fill="#0000ff"/>
<rect x="547.7" y="461.47" width="2.2" height="2.2" fill="#0000ff"/>
<rect x="551" y="461.59" width="2.2" height="2.2" fill="#0000ff"/>
<rect x="554.3" y="461.7" width="2.2" height="2.2" fill="#0000ff"/>
<rect x="557.6" y="461.82" width="2.2" height="2.2" fill="#0000ff"/>
<rect x="433.6" y="372.1" width="127.2" height="98.6" fill="none" stroke="#2a2a2a" stroke-width="1.1"/>
<path d="M433.6,470.7 v2.6 M449.5,470.7 v1.6 M465.4,470.7 v2.6 M481.3,470.7 v1.6 M497.2,470.7 v2.6 M513.1,470.7 v1.6 M529,470.7 v2.6 M544.9,470.7 v1.6 M560.8,470.7 v2.6" stroke="#333" stroke-width="1" fill="none"/>
<text x="433.6" y="482.7" font-size="11" font-weight="bold" text-anchor="middle" fill="#000" >0</text>
<text x="465.4" y="482.7" font-size="11" font-weight="bold" text-anchor="middle" fill="#000" >10</text>
<text x="497.2" y="482.7" font-size="11" font-weight="bold" text-anchor="middle" fill="#000" >20</text>
<text x="529" y="482.7" font-size="11" font-weight="bold" text-anchor="middle" fill="#000" >30</text>
<text x="560.8" y="482.7" font-size="11" font-weight="bold" text-anchor="middle" fill="#000" >40</text>
<text x="445.2" y="493.6" font-size="11" font-weight="bold" textLength="101.2" lengthAdjust="spacingAndGlyphs">Pore Diameter (nm)</text>
<text transform="translate(423.8,490.9) rotate(-90)" font-size="11.3" font-weight="bold">Pore Absorbed (cm<tspan font-size="7" font-weight="normal" dy="-5.8">3</tspan><tspan dy="5.8">/g)</tspan></text>
<text x="468.6" y="402.5" font-size="13" font-weight="bold" text-anchor="start" fill="#000" >5.4 nm</text>
<rect x="224" y="627.2" width="35" height="29.4" fill="#000"/>
<text transform="translate(241.5,649) scale(1,0.99)" font-size="21" font-weight="normal" text-anchor="middle" fill="#fff" stroke="#fff" stroke-width="0.8">(e)</text>
<path d="M223.6,858.9 L225.7,858.3 L234.9,855.4 L244.1,852.4 L248.2,850.7 L250.2,850.1 L253.3,849.3 L262.1,846.6 L271.2,843.6 L280.4,840.7 L289.6,837.6 L299.2,834.8 L308.9,831.7 L318.1,828.9 L327.2,825.8 L336.4,822.9 L345.7,819.9 L355.1,816.6 L364.6,813.7 L373.7,810.5 L383.2,807.7 L392.6,804.4 L401.7,801.4 L411.2,798.2 L420.3,795 L429.8,791.9 L439.3,788.3 L447.7,785.5 L458.3,781.9 L467.4,777.7 L475.8,773.4 L484.7,761.2" fill="none" stroke="#808080" stroke-width="0.8"/>
<path d="M486.4,756.5 L479,766.9 L470,776 L460,781 L449,785 L440.3,788.1 L430.8,791.7 L421.3,794.8 L412.2,798 L402.7,801.2 L393.6,804.2 L384.2,807.5 L374.7,810.3 L365.6,813.5 L356.1,816.4 L346.7,819.7 L337.4,822.7 L328.2,825.6 L319.1,828.7 L309.9,831.5 L300.2,834.6 L290.6,837.4 L281.4,840.5 L272.2,843.4 L263.1,846.4 L254.3,849.1 L251.2,849.9 L249.2,850.5 L245.1,852.2 L235.9,855.2 L226.7,858.1 L224.6,858.7" fill="none" stroke="#808080" stroke-width="0.8"/>
<rect x="221.2" y="856.8" width="4.8" height="4.2" fill="#000000"/>
<rect x="223.3" y="856.2" width="4.8" height="4.2" fill="#000000"/>
<rect x="232.5" y="853.3" width="4.8" height="4.2" fill="#000000"/>
<rect x="241.7" y="850.3" width="4.8" height="4.2" fill="#000000"/>
<rect x="245.8" y="848.6" width="4.8" height="4.2" fill="#000000"/>
<rect x="247.8" y="848" width="4.8" height="4.2" fill="#000000"/>
<rect x="250.9" y="847.2" width="4.8" height="4.2" fill="#000000"/>
<rect x="259.7" y="844.5" width="4.8" height="4.2" fill="#000000"/>
<rect x="268.8" y="841.5" width="4.8" height="4.2" fill="#000000"/>
<rect x="278" y="838.6" width="4.8" height="4.2" fill="#000000"/>
<rect x="287.2" y="835.5" width="4.8" height="4.2" fill="#000000"/>
<rect x="296.8" y="832.7" width="4.8" height="4.2" fill="#000000"/>
<rect x="306.5" y="829.6" width="4.8" height="4.2" fill="#000000"/>
<rect x="315.7" y="826.8" width="4.8" height="4.2" fill="#000000"/>
<rect x="324.8" y="823.7" width="4.8" height="4.2" fill="#000000"/>
<rect x="334" y="820.8" width="4.8" height="4.2" fill="#000000"/>
<rect x="343.3" y="817.8" width="4.8" height="4.2" fill="#000000"/>
<rect x="352.7" y="814.5" width="4.8" height="4.2" fill="#000000"/>
<rect x="362.2" y="811.6" width="4.8" height="4.2" fill="#000000"/>
<rect x="371.3" y="808.4" width="4.8" height="4.2" fill="#000000"/>
<rect x="380.8" y="805.6" width="4.8" height="4.2" fill="#000000"/>
<rect x="390.2" y="802.3" width="4.8" height="4.2" fill="#000000"/>
<rect x="399.3" y="799.3" width="4.8" height="4.2" fill="#000000"/>
<rect x="408.8" y="796.1" width="4.8" height="4.2" fill="#000000"/>
<rect x="417.9" y="792.9" width="4.8" height="4.2" fill="#000000"/>
<rect x="427.4" y="789.8" width="4.8" height="4.2" fill="#000000"/>
<rect x="436.9" y="786.2" width="4.8" height="4.2" fill="#000000"/>
<rect x="445.3" y="783.4" width="4.8" height="4.2" fill="#000000"/>
<rect x="455.9" y="779.8" width="4.8" height="4.2" fill="#000000"/>
<rect x="465" y="775.6" width="4.8" height="4.2" fill="#000000"/>
<rect x="473.4" y="771.3" width="4.8" height="4.2" fill="#000000"/>
<rect x="482.3" y="759.1" width="4.8" height="4.2" fill="#000000"/>
<rect x="484" y="754.4" width="4.8" height="4.2" fill="#000000"/>
<rect x="476.6" y="764.8" width="4.8" height="4.2" fill="#000000"/>
<rect x="467.6" y="773.9" width="4.8" height="4.2" fill="#000000"/>
<rect x="457.6" y="778.9" width="4.8" height="4.2" fill="#000000"/>
<rect x="446.6" y="782.9" width="4.8" height="4.2" fill="#000000"/>
<rect x="437.9" y="786" width="4.8" height="4.2" fill="#000000"/>
<rect x="428.4" y="789.6" width="4.8" height="4.2" fill="#000000"/>
<rect x="418.9" y="792.7" width="4.8" height="4.2" fill="#000000"/>
<rect x="409.8" y="795.9" width="4.8" height="4.2" fill="#000000"/>
<rect x="400.3" y="799.1" width="4.8" height="4.2" fill="#000000"/>
<rect x="391.2" y="802.1" width="4.8" height="4.2" fill="#000000"/>
<rect x="381.8" y="805.4" width="4.8" height="4.2" fill="#000000"/>
<rect x="372.3" y="808.2" width="4.8" height="4.2" fill="#000000"/>
<rect x="363.2" y="811.4" width="4.8" height="4.2" fill="#000000"/>
<rect x="353.7" y="814.3" width="4.8" height="4.2" fill="#000000"/>
<rect x="344.3" y="817.6" width="4.8" height="4.2" fill="#000000"/>
<rect x="335" y="820.6" width="4.8" height="4.2" fill="#000000"/>
<rect x="325.8" y="823.5" width="4.8" height="4.2" fill="#000000"/>
<rect x="316.7" y="826.6" width="4.8" height="4.2" fill="#000000"/>
<rect x="307.5" y="829.4" width="4.8" height="4.2" fill="#000000"/>
<rect x="297.8" y="832.5" width="4.8" height="4.2" fill="#000000"/>
<rect x="288.2" y="835.3" width="4.8" height="4.2" fill="#000000"/>
<rect x="279" y="838.4" width="4.8" height="4.2" fill="#000000"/>
<rect x="269.8" y="841.3" width="4.8" height="4.2" fill="#000000"/>
<rect x="260.7" y="844.3" width="4.8" height="4.2" fill="#000000"/>
<rect x="251.9" y="847" width="4.8" height="4.2" fill="#000000"/>
<rect x="248.8" y="847.8" width="4.8" height="4.2" fill="#000000"/>
<rect x="246.8" y="848.4" width="4.8" height="4.2" fill="#000000"/>
<rect x="242.7" y="850.1" width="4.8" height="4.2" fill="#000000"/>
<rect x="233.5" y="853.1" width="4.8" height="4.2" fill="#000000"/>
<rect x="224.3" y="856" width="4.8" height="4.2" fill="#000000"/>
<rect x="222.2" y="856.6" width="4.8" height="4.2" fill="#000000"/>
<rect x="221.7" y="664.4" width="266" height="196.2" fill="none" stroke="#000" stroke-width="1.8"/>
<path d="M221.7,860.6 v4.5 M248.3,860.6 v2.5 M274.9,860.6 v4.5 M301.5,860.6 v2.5 M328.1,860.6 v4.5 M354.7,860.6 v2.5 M381.3,860.6 v4.5 M407.9,860.6 v2.5 M434.5,860.6 v4.5 M461.1,860.6 v2.5 M487.7,860.6 v4.5 M221.7,860.6 h-4.5 M221.7,836.08 h-2.5 M221.7,811.55 h-4.5 M221.7,787.02 h-2.5 M221.7,762.5 h-4.5 M221.7,737.98 h-2.5 M221.7,713.45 h-4.5 M221.7,688.92 h-2.5 M221.7,664.4 h-4.5" stroke="#000" stroke-width="1.5" fill="none"/>
<text transform="translate(221.7,878.1) scale(1,1.05)" font-size="13.5" font-weight="bold" text-anchor="middle">0.0</text>
<text transform="translate(274.9,878.1) scale(1,1.05)" font-size="13.5" font-weight="bold" text-anchor="middle">0.2</text>
<text transform="translate(328.1,878.1) scale(1,1.05)" font-size="13.5" font-weight="bold" text-anchor="middle">0.4</text>
<text transform="translate(381.3,878.1) scale(1,1.05)" font-size="13.5" font-weight="bold" text-anchor="middle">0.6</text>
<text transform="translate(434.5,878.1) scale(1,1.05)" font-size="13.5" font-weight="bold" text-anchor="middle">0.8</text>
<text transform="translate(487.7,878.1) scale(1,1.05)" font-size="13.5" font-weight="bold" text-anchor="middle">1.0</text>
<text transform="translate(215.2,864.5) scale(1,1.05)" font-size="11.5" font-weight="normal" text-anchor="end">0</text>
<text transform="translate(215.2,815.45) scale(1,1.05)" font-size="11.5" font-weight="normal" text-anchor="end">100</text>
<text transform="translate(215.2,766.4) scale(1,1.05)" font-size="11.5" font-weight="normal" text-anchor="end">200</text>
<text transform="translate(215.2,717.35) scale(1,1.05)" font-size="11.5" font-weight="normal" text-anchor="end">300</text>
<text transform="translate(215.2,668.3) scale(1,1.05)" font-size="11.5" font-weight="normal" text-anchor="end">400</text>
<text x="262.9" y="899.3" font-size="16.4" font-weight="bold">Relative Pressure <tspan font-weight="normal">(</tspan>P/P<tspan font-size="10.5" dy="6.3">0</tspan><tspan dy="-6.3" font-weight="normal">)</tspan></text>
<text transform="translate(192.2,877.2) rotate(-90)" x="0" y="0" font-size="16.4" font-weight="bold">Quantity Absorbed (cm<tspan font-size="9.5" dy="-5.5" font-weight="normal">3</tspan><tspan dy="5.5">/g)</tspan></text>
<text transform="translate(378.5,844) scale(1,1.07)" font-size="14" font-weight="bold">S<tspan font-size="7.7" dy="4.4">BET</tspan><tspan dy="-4.4">=157.5 m</tspan><tspan font-size="7.8" dy="-7.4">2</tspan><tspan dy="7.4">/g</tspan></text>
<path d="M262,762.8 L262.5,751.5 L262.8,741 L263.4,737.5 L264,727.8 L264.6,718 L264.9,709.8 L265.5,703 L266.1,695.4 L266.6,690.2 L267.3,700.1 L267.9,696.6 L268.7,694.9 L269.9,694.3 L270.8,707.7 L271.6,710 L272.4,714.7 L273.1,718.8 L273.9,728.7 L274.9,734.6 L275.9,737.5 L277.1,739.2 L278,744.5 L279.2,746.8 L280.4,749.2 L281.8,752.1 L283.3,753.8 L285,755.6 L286.8,757.3 L288.5,758.5 L290.9,760.3 L293.2,761.7 L295.5,762.4 L297.9,762.8 L300.2,763.5 L302.6,764.3 L304.9,764.9 L307.2,765.5 L309.6,765.5 L311.9,765.5 L314.2,765.5 L316.6,765.5 L318.9,765.9 L321.2,765.9 L324.2,765.9 L327.1,766.1 L329.4,766.1 L332.4,766.2 L335.5,766.2 L338.6,766.72 L341.7,766.66 L344.8,765.36 L347.9,765.57 L351,766.2 L354.1,766.2 L357.2,766.2 L360.3,766.2 L363.4,766.2 L366.5,766.2 L369.6,766.2 L372.7,766.2 L375.8,766.2" fill="none" stroke="#808080" stroke-width="0.7"/>
<rect x="261.1" y="761.9" width="1.8" height="1.8" fill="#000000"/>
<rect x="261.6" y="750.6" width="1.8" height="1.8" fill="#000000"/>
<rect x="261.9" y="740.1" width="1.8" height="1.8" fill="#000000"/>
<rect x="262.5" y="736.6" width="1.8" height="1.8" fill="#000000"/>
<rect x="263.1" y="726.9" width="1.8" height="1.8" fill="#000000"/>
<rect x="263.7" y="717.1" width="1.8" height="1.8" fill="#000000"/>
<rect x="264" y="708.9" width="1.8" height="1.8" fill="#000000"/>
<rect x="264.6" y="702.1" width="1.8" height="1.8" fill="#000000"/>
<rect x="265.2" y="694.5" width="1.8" height="1.8" fill="#000000"/>
<rect x="265.7" y="689.3" width="1.8" height="1.8" fill="#000000"/>
<rect x="266.4" y="699.2" width="1.8" height="1.8" fill="#000000"/>
<rect x="267" y="695.7" width="1.8" height="1.8" fill="#000000"/>
<rect x="267.8" y="694" width="1.8" height="1.8" fill="#000000"/>
<rect x="269" y="693.4" width="1.8" height="1.8" fill="#000000"/>
<rect x="269.9" y="706.8" width="1.8" height="1.8" fill="#000000"/>
<rect x="270.7" y="709.1" width="1.8" height="1.8" fill="#000000"/>
<rect x="271.5" y="713.8" width="1.8" height="1.8" fill="#000000"/>
<rect x="272.2" y="717.9" width="1.8" height="1.8" fill="#000000"/>
<rect x="273" y="727.8" width="1.8" height="1.8" fill="#000000"/>
<rect x="274" y="733.7" width="1.8" height="1.8" fill="#000000"/>
<rect x="275" y="736.6" width="1.8" height="1.8" fill="#000000"/>
<rect x="276.2" y="738.3" width="1.8" height="1.8" fill="#000000"/>
<rect x="277.1" y="743.6" width="1.8" height="1.8" fill="#000000"/>
<rect x="278.3" y="745.9" width="1.8" height="1.8" fill="#000000"/>
<rect x="279.5" y="748.3" width="1.8" height="1.8" fill="#000000"/>
<rect x="280.9" y="751.2" width="1.8" height="1.8" fill="#000000"/>
<rect x="282.4" y="752.9" width="1.8" height="1.8" fill="#000000"/>
<rect x="284.1" y="754.7" width="1.8" height="1.8" fill="#000000"/>
<rect x="285.9" y="756.4" width="1.8" height="1.8" fill="#000000"/>
<rect x="287.6" y="757.6" width="1.8" height="1.8" fill="#000000"/>
<rect x="290" y="759.4" width="1.8" height="1.8" fill="#000000"/>
<rect x="292.3" y="760.8" width="1.8" height="1.8" fill="#000000"/>
<rect x="294.6" y="761.5" width="1.8" height="1.8" fill="#000000"/>
<rect x="297" y="761.9" width="1.8" height="1.8" fill="#000000"/>
<rect x="299.3" y="762.6" width="1.8" height="1.8" fill="#000000"/>
<rect x="301.7" y="763.4" width="1.8" height="1.8" fill="#000000"/>
<rect x="304" y="764" width="1.8" height="1.8" fill="#000000"/>
<rect x="306.3" y="764.6" width="1.8" height="1.8" fill="#000000"/>
<rect x="308.7" y="764.6" width="1.8" height="1.8" fill="#000000"/>
<rect x="311" y="764.6" width="1.8" height="1.8" fill="#000000"/>
<rect x="313.3" y="764.6" width="1.8" height="1.8" fill="#000000"/>
<rect x="315.7" y="764.6" width="1.8" height="1.8" fill="#000000"/>
<rect x="318" y="765" width="1.8" height="1.8" fill="#000000"/>
<rect x="320.3" y="765" width="1.8" height="1.8" fill="#000000"/>
<rect x="323.3" y="765" width="1.8" height="1.8" fill="#000000"/>
<rect x="326.2" y="765.2" width="1.8" height="1.8" fill="#000000"/>
<rect x="328.5" y="765.2" width="1.8" height="1.8" fill="#000000"/>
<rect x="331.5" y="765.3" width="1.8" height="1.8" fill="#000000"/>
<rect x="334.6" y="765.3" width="1.8" height="1.8" fill="#000000"/>
<rect x="337.7" y="765.82" width="1.8" height="1.8" fill="#000000"/>
<rect x="340.8" y="765.76" width="1.8" height="1.8" fill="#000000"/>
<rect x="343.9" y="764.46" width="1.8" height="1.8" fill="#000000"/>
<rect x="347" y="764.67" width="1.8" height="1.8" fill="#000000"/>
<rect x="350.1" y="765.3" width="1.8" height="1.8" fill="#000000"/>
<rect x="353.2" y="765.3" width="1.8" height="1.8" fill="#000000"/>
<rect x="356.3" y="765.3" width="1.8" height="1.8" fill="#000000"/>
<rect x="359.4" y="765.3" width="1.8" height="1.8" fill="#000000"/>
<rect x="362.5" y="765.3" width="1.8" height="1.8" fill="#000000"/>
<rect x="365.6" y="765.3" width="1.8" height="1.8" fill="#000000"/>
<rect x="368.7" y="765.3" width="1.8" height="1.8" fill="#000000"/>
<rect x="371.8" y="765.3" width="1.8" height="1.8" fill="#000000"/>
<rect x="374.9" y="765.3" width="1.8" height="1.8" fill="#000000"/>
<rect x="251.4" y="677.9" width="125.9" height="97.6" fill="none" stroke="#2a2a2a" stroke-width="1.1"/>
<path d="M251.4,775.5 v2.6 M267.14,775.5 v1.6 M282.88,775.5 v2.6 M298.61,775.5 v1.6 M314.35,775.5 v2.6 M330.09,775.5 v1.6 M345.83,775.5 v2.6 M361.56,775.5 v1.6 M377.3,775.5 v2.6" stroke="#333" stroke-width="1" fill="none"/>
<text x="251.4" y="785.1" font-size="9.5" font-weight="normal" text-anchor="middle" fill="#000" >0</text>
<text x="282.88" y="785.1" font-size="9.5" font-weight="normal" text-anchor="middle" fill="#000" >10</text>
<text x="314.35" y="785.1" font-size="9.5" font-weight="normal" text-anchor="middle" fill="#000" >20</text>
<text x="345.83" y="785.1" font-size="9.5" font-weight="normal" text-anchor="middle" fill="#000" >30</text>
<text x="377.3" y="785.1" font-size="9.5" font-weight="normal" text-anchor="middle" fill="#000" >40</text>
<text x="262.6" y="795" font-size="11" font-weight="bold" textLength="98.9" lengthAdjust="spacingAndGlyphs">Pore Diameter (nm)</text>
<text transform="translate(245.8,789.5) rotate(-90)" font-size="11.3" font-weight="bold">Pore Absorbed (cm<tspan font-size="7" font-weight="normal" dy="-5.8">3</tspan><tspan dy="5.8">/g)</tspan></text>
<text x="281.1" y="704.3" font-size="13" font-weight="bold" text-anchor="start" fill="#000" >5.7 nm</text>
</svg>
</body></html>
